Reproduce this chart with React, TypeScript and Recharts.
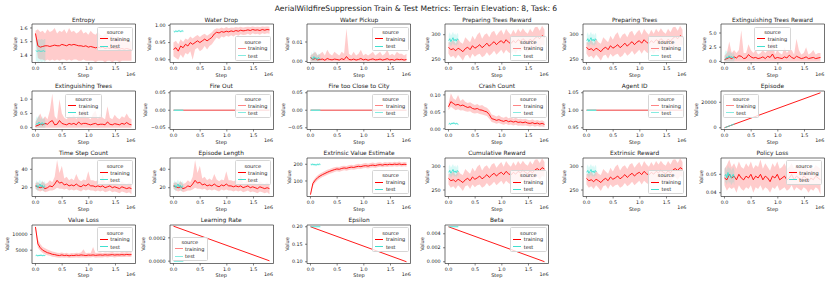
import React from 'react'
import { ComposedChart, Line, Area, XAxis, YAxis, ReferenceArea } from 'recharts'

const RED = '#ff0000'
const TURQ = '#40e0d0'
const FONT = '"DejaVu Sans", sans-serif'

// steps in thousands
const trainSteps = [
  0, 45, 90, 135, 180, 225, 270, 315, 360, 405,
  450, 495, 540, 585, 630, 675, 720, 765, 810, 855,
  900, 945, 990, 1035, 1080, 1125, 1170, 1215, 1260, 1305,
  1350, 1395, 1440, 1485, 1530, 1575, 1620, 1665, 1710, 1755,
  1800,
]
const testSteps = [5, 25, 45, 65, 85, 105, 125, 145, 165, 185]
const lineSteps = [0, 1800]
const lineTestSteps = [5, 185]
const xTicks = [0, 500000, 1000000, 1500000]

const zeros41 = [
  0, 0, 0, 0, 0, 0, 0, 0, 0, 0, 0, 0, 0, 0, 0, 0, 0, 0, 0, 0,
  0, 0, 0, 0, 0, 0, 0, 0, 0, 0, 0, 0, 0, 0, 0, 0, 0, 0, 0, 0, 0,
]
const zeros10 = [0, 0, 0, 0, 0, 0, 0, 0, 0, 0]

const entropyMean = [
  1.56, 1.47, 1.46, 1.465, 1.47, 1.47, 1.465, 1.47, 1.475, 1.47,
  1.47, 1.48, 1.475, 1.47, 1.48, 1.475, 1.48, 1.475, 1.47, 1.47,
  1.465, 1.47, 1.46, 1.465, 1.46, 1.455, 1.46, 1.455, 1.46, 1.45,
  1.455, 1.45, 1.455, 1.45, 1.45, 1.445, 1.45, 1.445, 1.45, 1.445,
  1.44,
]
const entropyHi = [
  1.58, 1.59, 1.57, 1.58, 1.56, 1.59, 1.57, 1.58, 1.6, 1.56,
  1.58, 1.57, 1.59, 1.56, 1.6, 1.57, 1.58, 1.56, 1.57, 1.59,
  1.56, 1.57, 1.55, 1.58, 1.56, 1.55, 1.57, 1.55, 1.54, 1.56,
  1.55, 1.54, 1.55, 1.53, 1.54, 1.53, 1.52, 1.53, 1.52, 1.51,
  1.5,
]
const entropyLo = [
  1.53, 1.38, 1.37, 1.37, 1.36, 1.37, 1.36, 1.37, 1.36, 1.37,
  1.36, 1.37, 1.37, 1.36, 1.37, 1.36, 1.37, 1.37, 1.36, 1.36,
  1.37, 1.36, 1.36, 1.36, 1.36, 1.35, 1.36, 1.36, 1.36, 1.35,
  1.36, 1.36, 1.35, 1.36, 1.36, 1.35, 1.36, 1.36, 1.36, 1.36,
  1.36,
]
const entropyTest = [1.435, 1.43, 1.43, 1.435, 1.43, 1.43, 1.43, 1.435, 1.43, 1.43]
const entropyTestLo = [1.35, 1.36, 1.35, 1.35, 1.36, 1.35, 1.35, 1.36, 1.35, 1.35]
const entropyTestHi = [1.52, 1.51, 1.52, 1.52, 1.51, 1.52, 1.52, 1.51, 1.52, 1.52]

const waterDropMean = [
  0.93, 0.935, 0.925, 0.94, 0.935, 0.945, 0.94, 0.95, 0.945, 0.95,
  0.955, 0.95, 0.955, 0.96, 0.955, 0.96, 0.965, 0.975, 0.98, 0.978,
  0.982, 0.98, 0.983, 0.981, 0.984, 0.982, 0.985, 0.983, 0.986, 0.984,
  0.985, 0.987, 0.985, 0.988, 0.986, 0.987, 0.985, 0.988, 0.986, 0.988,
  0.987,
]
const waterDropHi = [
  0.95, 0.955, 0.945, 0.96, 0.952, 0.962, 0.958, 0.968, 0.962, 0.968,
  0.972, 0.966, 0.972, 0.976, 0.97, 0.975, 0.98, 0.988, 0.992, 0.99,
  0.994, 0.991, 0.995, 0.992, 0.994, 0.993, 0.995, 0.994, 0.996, 0.994,
  0.995, 0.996, 0.995, 0.997, 0.995, 0.996, 0.995, 0.997, 0.996, 0.997,
  0.996,
]
const waterDropLo = [
  0.91, 0.905, 0.9, 0.915, 0.905, 0.92, 0.915, 0.925, 0.9, 0.93,
  0.935, 0.925, 0.93, 0.94, 0.93, 0.94, 0.945, 0.955, 0.965, 0.96,
  0.968, 0.965, 0.97, 0.967, 0.971, 0.968, 0.973, 0.97, 0.974, 0.972,
  0.973, 0.976, 0.972, 0.977, 0.974, 0.976, 0.973, 0.977, 0.975, 0.977,
  0.976,
]
const waterDropTest = [0.983, 0.981, 0.984, 0.982, 0.983, 0.985, 0.982, 0.983, 0.984, 0.983]
const waterDropTestLo = [0.98, 0.978, 0.981, 0.979, 0.98, 0.982, 0.979, 0.98, 0.981, 0.98]
const waterDropTestHi = [0.986, 0.984, 0.987, 0.985, 0.986, 0.988, 0.985, 0.986, 0.987, 0.986]

const waterPickupMean = [
  0.002, 0.001, 0.0015, 0.0008, 0.001, 0.0012, 0.0006, 0.0015, 0.001, 0.0008,
  0.0012, 0.001, 0.0007, 0.0014, 0.0009, 0.0025, 0.001, 0.0008, 0.0012, 0.0007,
  0.001, 0.0015, 0.0008, 0.0011, 0.0006, 0.001, 0.0013, 0.0008, 0.0009, 0.0012,
  0.0007, 0.001, 0.0014, 0.0008, 0.001, 0.0006, 0.0012, 0.0009, 0.0011, 0.0007,
  0.001,
]
const waterPickupHi = [
  0.003, 0.004, 0.005, 0.003, 0.004, 0.005, 0.003, 0.006, 0.004, 0.003,
  0.005, 0.004, 0.003, 0.005, 0.004, 0.017, 0.004, 0.003, 0.005, 0.003,
  0.004, 0.006, 0.003, 0.004, 0.003, 0.004, 0.005, 0.003, 0.004, 0.005,
  0.003, 0.004, 0.006, 0.003, 0.004, 0.003, 0.005, 0.004, 0.004, 0.003,
  0.004,
]
const waterPickupTest = [0.0015, 0.002, 0.001, 0.0025, 0.0015, 0.002, 0.001, 0.002, 0.0015, 0.001]
const waterPickupTestHi = [0.003, 0.005, 0.003, 0.006, 0.004, 0.005, 0.003, 0.004, 0.004, 0.003]

const rewardMean = [
  275, 270, 272, 268, 273, 270, 266, 272, 275, 270,
  278, 273, 276, 280, 274, 278, 283, 277, 282, 286,
  280, 285, 288, 283, 290, 285, 282, 288, 284, 290,
  287, 292, 288, 285, 291, 287, 293, 296, 292, 298,
  295,
]
const rewardHi = [
  285, 285, 290, 282, 292, 285, 282, 295, 290, 285,
  298, 290, 300, 305, 292, 300, 303, 295, 305, 308,
  298, 305, 310, 300, 312, 305, 300, 310, 302, 312,
  305, 313, 306, 302, 312, 305, 315, 316, 308, 318,
  310,
]
const rewardLo = [
  262, 255, 258, 252, 260, 255, 248, 258, 260, 252,
  262, 256, 260, 262, 255, 258, 265, 258, 262, 268,
  260, 265, 270, 262, 270, 265, 262, 268, 262, 270,
  266, 272, 268, 265, 272, 268, 275, 278, 272, 280,
  278,
]
const rewardTest = [288, 292, 286, 290, 294, 288, 291, 287, 292, 289]
const rewardTestHi = [300, 305, 298, 302, 306, 300, 303, 298, 304, 300]
const rewardTestLo = [278, 282, 276, 280, 283, 278, 281, 277, 282, 279]

const extTreesRewardMean = [
  0.3, 0.5, 0.7, 0.5, 0.8, 0.6, 1.0, 0.9, 0.5, 0.6,
  1.2, 0.8, 0.6, 0.7, 0.5, 0.6, 0.8, 0.5, 0.9, 0.7,
  1.3, 0.5, 0.7, 0.6, 0.5, 0.8, 0.6, 1.1, 0.7, 0.5,
  0.9, 0.7, 0.5, 0.6, 0.8, 0.5, 0.6, 0.7, 0.5, 0.6,
  0.7,
]
const extTreesRewardHi = [
  1.0, 1.5, 3.5, 1.5, 2.0, 1.5, 2.0, 5.5, 1.5, 1.5,
  3.0, 2.0, 1.5, 2.0, 1.2, 1.5, 2.0, 1.5, 2.0, 2.0,
  5.0, 1.2, 2.0, 1.5, 1.2, 2.5, 1.5, 2.0, 2.0, 1.2,
  4.0, 2.0, 1.2, 1.5, 2.5, 1.2, 1.5, 2.0, 1.2, 1.5,
  1.5,
]
const extTreesRewardTest = [0.3, 0.5, 0.8, 0.6, 1.0, 0.7, 0.9, 0.6, 0.8, 0.5]
const extTreesRewardTestHi = [1.5, 2.0, 1.8, 1.5, 2.0, 1.5, 1.8, 1.2, 1.6, 1.2]

const extTreesMean = [
  0.05, 0.08, 0.12, 0.1, 0.15, 0.12, 0.2, 0.25, 0.1, 0.12,
  0.25, 0.15, 0.12, 0.1, 0.15, 0.12, 0.15, 0.1, 0.2, 0.12,
  0.15, 0.15, 0.12, 0.1, 0.13, 0.15, 0.1, 0.12, 0.12, 0.1,
  0.2, 0.12, 0.1, 0.14, 0.12, 0.1, 0.15, 0.12, 0.18, 0.12,
  0.1,
]
const extTreesHi = [
  0.2, 0.35, 0.5, 0.3, 0.4, 0.3, 0.6, 1.2, 0.4, 0.3,
  1.0, 0.5, 0.35, 0.3, 0.4, 0.35, 0.45, 0.3, 0.5, 0.35,
  0.8, 0.4, 0.35, 0.3, 0.5, 0.6, 0.3, 0.5, 0.35, 0.3,
  0.75, 0.35, 0.3, 0.45, 0.35, 0.3, 0.4, 0.35, 0.5, 0.35,
  0.3,
]
const extTreesTest = [0.1, 0.15, 0.12, 0.2, 0.15, 0.1, 0.18, 0.12, 0.15, 0.1]
const extTreesTestHi = [0.3, 0.4, 0.35, 0.45, 0.35, 0.3, 0.4, 0.3, 0.35, 0.25]

const crashMean = [
  0.065, 0.08, 0.075, 0.07, 0.072, 0.068, 0.07, 0.066, 0.063, 0.065,
  0.06, 0.058, 0.06, 0.056, 0.055, 0.052, 0.05, 0.042, 0.03, 0.028,
  0.025, 0.027, 0.024, 0.022, 0.025, 0.021, 0.023, 0.02, 0.022, 0.019,
  0.02, 0.018, 0.02, 0.017, 0.016, 0.018, 0.015, 0.017, 0.014, 0.016,
  0.013,
]
const crashHi = [
  0.075, 0.105, 0.09, 0.085, 0.1, 0.082, 0.088, 0.08, 0.076, 0.078,
  0.074, 0.07, 0.073, 0.068, 0.07, 0.065, 0.062, 0.055, 0.042, 0.04,
  0.036, 0.04, 0.035, 0.033, 0.036, 0.031, 0.034, 0.03, 0.033, 0.029,
  0.03, 0.028, 0.03, 0.027, 0.025, 0.028, 0.024, 0.026, 0.023, 0.025,
  0.021,
]
const crashLo = [
  0.055, 0.065, 0.06, 0.055, 0.058, 0.054, 0.055, 0.052, 0.05, 0.052,
  0.047, 0.045, 0.047, 0.044, 0.042, 0.04, 0.038, 0.03, 0.02, 0.018,
  0.015, 0.017, 0.014, 0.012, 0.015, 0.011, 0.013, 0.01, 0.012, 0.009,
  0.01, 0.009, 0.01, 0.008, 0.007, 0.009, 0.006, 0.008, 0.006, 0.007,
  0.005,
]
const crashTest = [0.014, 0.016, 0.013, 0.017, 0.015, 0.018, 0.014, 0.016, 0.015, 0.013]
const crashTestHi = [0.017, 0.019, 0.016, 0.02, 0.018, 0.021, 0.017, 0.019, 0.018, 0.016]
const crashTestLo = [0.011, 0.013, 0.01, 0.014, 0.012, 0.015, 0.011, 0.013, 0.012, 0.01]

const stepCountMean = [
  22, 21, 20, 21, 19, 20, 22, 21, 24, 28,
  25, 26, 23, 24, 22, 23, 22, 24, 22, 21,
  23, 22, 24, 22, 22, 21, 22, 21, 22, 20,
  21, 22, 20, 21, 20, 19, 21, 20, 19, 20,
  19,
]
const stepCountHi = [
  25, 26, 24, 27, 24, 25, 28, 26, 32, 50,
  36, 44, 30, 32, 28, 30, 28, 35, 29, 27,
  29, 28, 38, 28, 28, 27, 28, 26, 34, 25,
  26, 28, 25, 27, 25, 24, 27, 25, 24, 26,
  24,
]
const stepCountLo = [
  19, 17, 16, 17, 15, 16, 17, 17, 18, 20,
  19, 19, 18, 19, 17, 18, 17, 18, 17, 16,
  18, 17, 18, 17, 17, 16, 17, 16, 17, 15,
  16, 17, 15, 16, 15, 14, 16, 15, 14, 15,
  13,
]
const stepCountTest = [21, 23, 20, 22, 24, 21, 23, 20, 22, 21]
const stepCountTestHi = [26, 28, 25, 27, 29, 26, 28, 25, 27, 26]
const stepCountTestLo = [17, 18, 16, 18, 19, 17, 18, 16, 17, 17]

const valueEstMean = [
  18, 85, 105, 120, 130, 138, 145, 152, 158, 163,
  168, 172, 170, 175, 178, 176, 180, 183, 181, 185,
  188, 186, 190, 192, 189, 193, 195, 192, 196, 198,
  195, 199, 197, 200, 198, 201, 199, 202, 198, 200,
  199,
]
const valueEstHi = [
  22, 100, 120, 135, 145, 152, 160, 168, 172, 178,
  182, 186, 184, 190, 192, 190, 195, 198, 195, 200,
  203, 200, 205, 207, 203, 208, 210, 206, 210, 212,
  208, 213, 210, 214, 211, 215, 212, 216, 211, 213,
  212,
]
const valueEstLo = [
  18, 70, 90, 105, 115, 124, 130, 137, 143, 148,
  154, 158, 156, 160, 164, 162, 166, 169, 167, 171,
  174, 172, 176, 178, 175, 179, 181, 178, 183, 185,
  182, 186, 184, 187, 185, 188, 186, 189, 185, 188,
  186,
]
const valueEstTest = [200, 198, 201, 197, 199, 195, 200, 198, 201, 199]
const valueEstTestHi = [206, 204, 207, 203, 205, 201, 206, 204, 207, 205]
const valueEstTestLo = [193, 190, 194, 189, 192, 187, 193, 191, 194, 192]

const policyLossMean = [
  0.048, 0.047, 0.05, 0.048, 0.049, 0.047, 0.05, 0.048, 0.047, 0.049,
  0.048, 0.05, 0.047, 0.049, 0.048, 0.05, 0.047, 0.049, 0.048, 0.046,
  0.049, 0.048, 0.05, 0.047, 0.048, 0.049, 0.047, 0.048, 0.05, 0.047,
  0.049, 0.048, 0.047, 0.049, 0.048, 0.046, 0.048, 0.047, 0.049, 0.048,
  0.047,
]
const policyLossHi = [
  0.053, 0.055, 0.058, 0.054, 0.056, 0.053, 0.057, 0.054, 0.053, 0.056,
  0.054, 0.057, 0.053, 0.055, 0.054, 0.058, 0.053, 0.056, 0.054, 0.052,
  0.056, 0.054, 0.057, 0.053, 0.054, 0.056, 0.053, 0.054, 0.056, 0.053,
  0.055, 0.054, 0.053, 0.055, 0.054, 0.052, 0.054, 0.053, 0.055, 0.054,
  0.053,
]
const policyLossLo = [
  0.044, 0.041, 0.043, 0.042, 0.043, 0.04, 0.044, 0.042, 0.041, 0.043,
  0.042, 0.044, 0.04, 0.043, 0.042, 0.044, 0.041, 0.043, 0.042, 0.04,
  0.043, 0.042, 0.044, 0.041, 0.042, 0.043, 0.041, 0.042, 0.044, 0.041,
  0.043, 0.042, 0.041, 0.043, 0.042, 0.04, 0.042, 0.041, 0.043, 0.042,
  0.039,
]
const policyLossTest = [0.049, 0.05, 0.048, 0.051, 0.049, 0.05, 0.048, 0.049, 0.05, 0.048]
const policyLossTestHi = [0.053, 0.054, 0.052, 0.055, 0.053, 0.054, 0.052, 0.053, 0.054, 0.052]
const policyLossTestLo = [0.045, 0.046, 0.044, 0.047, 0.045, 0.046, 0.044, 0.045, 0.046, 0.044]

const valueLossMean = [
  12400, 7000, 5800, 5000, 4600, 4200, 4000, 3700, 3600, 3400,
  3300, 3500, 3300, 3400, 3200, 3350, 3300, 3450, 3350, 3500,
  3400, 3300, 3450, 3400, 3500, 3350, 3450, 3500, 3400, 3550,
  3450, 3500, 3600, 3450, 3550, 3500, 3600, 3500, 3650, 3550,
  3600,
]
const valueLossHi = [
  12800, 8500, 7000, 6000, 5600, 5200, 4900, 4600, 4400, 4200,
  4100, 4300, 4000, 4200, 3900, 4100, 4000, 4200, 4100, 4300,
  5300, 4000, 4200, 4100, 6000, 4100, 4200, 4300, 4100, 4300,
  4200, 4300, 4400, 4200, 4300, 4200, 4400, 4300, 4400, 4300,
  4400,
]
const valueLossLo = [
  11800, 5800, 4800, 4100, 3700, 3400, 3200, 2900, 2800, 2700,
  2600, 2700, 2600, 2700, 2500, 2600, 2600, 2700, 2600, 2700,
  2700, 2600, 2700, 2700, 2800, 2600, 2700, 2700, 2700, 2800,
  2700, 2800, 2800, 2700, 2800, 2800, 2800, 2800, 2900, 2800,
  2900,
]
const valueLossTest = [3300, 3400, 3200, 3350, 3300, 3450, 3250, 3350, 3300, 3400]
const valueLossTestHi = [3550, 3650, 3450, 3600, 3550, 3700, 3500, 3600, 3550, 3650]
const valueLossTestLo = [3050, 3150, 2950, 3100, 3050, 3200, 3000, 3100, 3050, 3150]

const flatZero = [0, 0]
const agentId = [1, 1]
const episodeTrain = [0, 27500]
const episodeTest = [0, 3000]
const lrTrain = [0.0003, 0.000003]
const epsilonTrain = [0.2, 0.1]
const epsilonTest = [0.2, 0.2]
const betaTrain = [0.005, 0.00001]
const betaTest = [0.005, 0.005]

type LegendPos = 'ur' | 'lr' | 'uc' | 'ul' | 'll'
type Cfg = {
  title: string
  steps: number[]
  train: number[]
  trainLo?: number[]
  trainHi?: number[]
  tSteps: number[]
  test: number[]
  testLo?: number[]
  testHi?: number[]
  domain: [number, number]
  ticks: number[]
  dec: number
  legend: LegendPos
  faded?: boolean
  flat?: boolean
}

const charts: Cfg[] = [
  { title: 'Entropy', steps: trainSteps, train: entropyMean, trainLo: entropyLo, trainHi: entropyHi, tSteps: testSteps, test: entropyTest, testLo: entropyTestLo, testHi: entropyTestHi, domain: [1.348, 1.629], ticks: [1.4, 1.5, 1.6], dec: 1, legend: 'ur' },
  { title: 'Water Drop', steps: trainSteps, train: waterDropMean, trainLo: waterDropLo, trainHi: waterDropHi, tSteps: testSteps, test: waterDropTest, testLo: waterDropTestLo, testHi: waterDropTestHi, domain: [0.892, 1.004], ticks: [0.9, 0.95, 1.0], dec: 2, legend: 'lr', faded: true },
  { title: 'Water Pickup', steps: trainSteps, train: waterPickupMean, trainLo: zeros41, trainHi: waterPickupHi, tSteps: testSteps, test: waterPickupTest, testLo: zeros10, testHi: waterPickupTestHi, domain: [-0.00056, 0.01928], ticks: [0, 0.01], dec: 2, legend: 'ur' },
  { title: 'Preparing Trees Reward', steps: trainSteps, train: rewardMean, trainLo: rewardLo, trainHi: rewardHi, tSteps: testSteps, test: rewardTest, testLo: rewardTestLo, testHi: rewardTestHi, domain: [244.4, 321.4], ticks: [250, 300], dec: 0, legend: 'lr', faded: true },
  { title: 'Preparing Trees', steps: trainSteps, train: rewardMean, trainLo: rewardLo, trainHi: rewardHi, tSteps: testSteps, test: rewardTest, testLo: rewardTestLo, testHi: rewardTestHi, domain: [244.4, 321.4], ticks: [250, 300], dec: 0, legend: 'lr', faded: true },
  { title: 'Extinguishing Trees Reward', steps: trainSteps, train: extTreesRewardMean, trainLo: zeros41, trainHi: extTreesRewardHi, tSteps: testSteps, test: extTreesRewardTest, testLo: zeros10, testHi: extTreesRewardTestHi, domain: [-0.19, 6.585], ticks: [0, 2.5, 5], dec: 1, legend: 'uc' },

  { title: 'Extinguishing Trees', steps: trainSteps, train: extTreesMean, trainLo: zeros41, trainHi: extTreesHi, tSteps: testSteps, test: extTreesTest, testLo: zeros10, testHi: extTreesTestHi, domain: [-0.065, 1.29], ticks: [0, 0.5, 1], dec: 1, legend: 'uc' },
  { title: 'Fire Out', steps: lineSteps, train: flatZero, tSteps: lineTestSteps, test: flatZero, domain: [-0.055, 0.055], ticks: [-0.05, 0, 0.05], dec: 2, legend: 'ur', faded: true, flat: true },
  { title: 'Fire too Close to City', steps: lineSteps, train: flatZero, tSteps: lineTestSteps, test: flatZero, domain: [-0.055, 0.055], ticks: [-0.05, 0, 0.05], dec: 2, legend: 'ur', faded: true, flat: true },
  { title: 'Crash Count', steps: trainSteps, train: crashMean, trainLo: crashLo, trainHi: crashHi, tSteps: testSteps, test: crashTest, testLo: crashTestLo, testHi: crashTestHi, domain: [-0.002, 0.1115], ticks: [0, 0.05, 0.1], dec: 2, legend: 'ur', faded: true },
  { title: 'Agent ID', steps: lineSteps, train: agentId, tSteps: lineTestSteps, test: agentId, domain: [0.945, 1.055], ticks: [0.95, 1, 1.05], dec: 2, legend: 'ur', faded: true, flat: true },
  { title: 'Episode', steps: lineSteps, train: episodeTrain, tSteps: lineTestSteps, test: episodeTest, domain: [-1375, 28875], ticks: [0, 20000], dec: 0, legend: 'ul', faded: true },

  { title: 'Time Step Count', steps: trainSteps, train: stepCountMean, trainLo: stepCountLo, trainHi: stepCountHi, tSteps: testSteps, test: stepCountTest, testLo: stepCountTestLo, testHi: stepCountTestHi, domain: [10.45, 52.3], ticks: [20, 40], dec: 0, legend: 'ur' },
  { title: 'Episode Length', steps: trainSteps, train: stepCountMean, trainLo: stepCountLo, trainHi: stepCountHi, tSteps: testSteps, test: stepCountTest, testLo: stepCountTestLo, testHi: stepCountTestHi, domain: [10.45, 52.3], ticks: [20, 40], dec: 0, legend: 'ur' },
  { title: 'Extrinsic Value Estimate', steps: trainSteps, train: valueEstMean, trainLo: valueEstLo, trainHi: valueEstHi, tSteps: testSteps, test: valueEstTest, testLo: valueEstTestLo, testHi: valueEstTestHi, domain: [7, 237.7], ticks: [100, 200], dec: 0, legend: 'lr' },
  { title: 'Cumulative Reward', steps: trainSteps, train: rewardMean, trainLo: rewardLo, trainHi: rewardHi, tSteps: testSteps, test: rewardTest, testLo: rewardTestLo, testHi: rewardTestHi, domain: [236.1, 318.7], ticks: [250, 300], dec: 0, legend: 'lr' },
  { title: 'Extrinsic Reward', steps: trainSteps, train: rewardMean, trainLo: rewardLo, trainHi: rewardHi, tSteps: testSteps, test: rewardTest, testLo: rewardTestLo, testHi: rewardTestHi, domain: [236.1, 318.7], ticks: [250, 300], dec: 0, legend: 'lr' },
  { title: 'Policy Loss', steps: trainSteps, train: policyLossMean, trainLo: policyLossLo, trainHi: policyLossHi, tSteps: testSteps, test: policyLossTest, testLo: policyLossTestLo, testHi: policyLossTestHi, domain: [0.03794, 0.05886], ticks: [0.04, 0.05], dec: 2, legend: 'ur' },

  { title: 'Value Loss', steps: trainSteps, train: valueLossMean, trainLo: valueLossLo, trainHi: valueLossHi, tSteps: testSteps, test: valueLossTest, testLo: valueLossTestLo, testHi: valueLossTestHi, domain: [765, 13026], ticks: [5000, 10000], dec: 0, legend: 'ur' },
  { title: 'Learning Rate', steps: lineSteps, train: lrTrain, tSteps: lineTestSteps, test: flatZero, domain: [-0.00002, 0.00031], ticks: [0, 0.0002], dec: 4, legend: 'll', faded: true },
  { title: 'Epsilon', steps: lineSteps, train: epsilonTrain, tSteps: lineTestSteps, test: epsilonTest, domain: [0.095, 0.205], ticks: [0.1, 0.15, 0.2], dec: 2, legend: 'ur' },
  { title: 'Beta', steps: lineSteps, train: betaTrain, tSteps: lineTestSteps, test: betaTest, domain: [-0.00025, 0.00525], ticks: [0, 0.002, 0.004], dec: 3, legend: 'ur' },
]

const X_DOMAIN: [number, number] = [-65000, 1875000]
const COL0 = 31.7
const COLSTEP = 137.8
const ROW0 = 24.3
const ROWSTEP = 66.83
const BOX_W = 103.5
const BOX_H = 38.5
const Y_W = 32
const M_T = 5
const M_R = 4
const X_H = 12
const LEG_W = 36.5
const LEG_H = 24.5

const fmt = (v: number, dec: number) => (v < 0 ? '\u2212' : '') + Math.abs(v).toFixed(dec)
const textW = (s: string, fs: number) =>
  [...s].reduce((a, ch) => a + (ch === '.' ? 0.318 : ch === '\u2212' ? 0.838 : 0.636), 0) * fs

function makeRows(c: Cfg) {
  const rows: any[] = []
  c.steps.forEach((s, i) =>
    rows.push({ x: s * 1000, mean: c.train[i], band: c.trainHi ? [c.trainLo![i], c.trainHi[i]] : undefined })
  )
  c.tSteps.forEach((s, i) =>
    rows.push({ x: s * 1000, tmean: c.test[i], tband: c.testHi ? [c.testLo![i], c.testHi[i]] : undefined })
  )
  rows.sort((a, b) => a.x - b.x)
  return rows
}

function Txt({ x, y, size, children, anchor = 'middle', rotate = false, weight = 400 }: any) {
  const tx = anchor === 'middle' ? '-50%' : anchor === 'end' ? '-100%' : '0'
  return (
    <div
      style={{
        position: 'absolute', left: x, top: y, fontSize: size, lineHeight: 1, whiteSpace: 'nowrap',
        fontFamily: FONT, color: '#1a1a1a', fontWeight: weight,
        transform: `translate(${tx}, -50%)${rotate ? ' rotate(-90deg)' : ''}`,
        transformOrigin: rotate ? '50% 50%' : undefined,
      }}
    >
      {children}
    </div>
  )
}

function LegendBox({ left, top, faded }: { left: number; top: number; faded?: boolean }) {
  const tr = faded ? '#ff8585' : RED
  const te = faded ? '#86ebe0' : TURQ
  return (
    <div
      style={{
        position: 'absolute', left, top, width: LEG_W, height: LEG_H, boxSizing: 'border-box',
        background: 'rgba(255,255,255,0.8)', border: '1px solid #d6d6d6', borderRadius: 1.5,
      }}
    >
      <Txt x={LEG_W / 2 - 1} y={4.3} size={5}>source</Txt>
      <div style={{ position: 'absolute', left: 2, top: 10.6, width: 8, height: 1, background: tr }} />
      <Txt x={12.6} y={11.1} size={5} anchor="start">training</Txt>
      <div style={{ position: 'absolute', left: 2, top: 17.8, width: 8, height: 1, background: te }} />
      <Txt x={12.6} y={18.3} size={5} anchor="start">test</Txt>
    </div>
  )
}

function Panel({ c, idx }: { c: Cfg; idx: number }) {
  const col = idx % 6
  const row = Math.floor(idx / 6)
  const bx = COL0 + col * COLSTEP
  const by = ROW0 + row * ROWSTEP
  const rows = makeRows(c)
  const trainColor = c.flat ? '#f47c7c' : RED
  const lw = c.flat ? 1.4 : 0.9
  const maxTick = Math.max(...c.ticks.map((t) => textW(fmt(t, c.dec), 4.8)))
  let lx = bx + BOX_W - 2 - LEG_W
  let ly = by + 2.5
  if (c.legend === 'lr' || c.legend === 'll') ly = by + BOX_H - 2 - LEG_H
  if (c.legend === 'uc') lx = bx + (BOX_W - LEG_W) / 2
  if (c.legend === 'ul' || c.legend === 'll') lx = bx + 2
  const tick = { fontSize: 4.8, fill: '#1a1a1a', fontFamily: FONT }
  const tl = { stroke: '#333', strokeWidth: 0.6 }
  return (
    <>
      <div style={{ position: 'absolute', left: bx - Y_W, top: by - M_T }}>
        <ComposedChart
          width={Y_W + BOX_W + M_R}
          height={M_T + BOX_H + X_H}
          data={rows}
          margin={{ top: M_T, right: M_R, bottom: 0, left: 0 }}
        >
          <XAxis
            type="number" dataKey="x" domain={X_DOMAIN} allowDataOverflow ticks={xTicks} interval={0}
            tickFormatter={(v: number) => (v / 1e6).toFixed(1)} height={X_H} tick={tick}
            tickSize={2} tickMargin={2.2} axisLine={false} tickLine={tl}
          />
          <YAxis
            type="number" domain={c.domain} allowDataOverflow ticks={c.ticks} interval={0}
            tickFormatter={(v: number) => fmt(v, c.dec)} width={Y_W} tick={tick}
            tickSize={2} tickMargin={2.4} axisLine={false} tickLine={tl}
          />
          {c.trainHi && (
            <Area dataKey="band" type="linear" stroke="none" fill={RED} fillOpacity={0.2}
              connectNulls isAnimationActive={false} dot={false} activeDot={false} />
          )}
          <Line dataKey="mean" type="linear" stroke={trainColor} strokeWidth={lw}
            connectNulls isAnimationActive={false} dot={false} activeDot={false} />
          {c.testHi && (
            <Area dataKey="tband" type="linear" stroke="none" fill={TURQ} fillOpacity={0.2}
              connectNulls isAnimationActive={false} dot={false} activeDot={false} />
          )}
          <Line dataKey="tmean" type="linear" stroke={c.flat ? '#6fe3d6' : TURQ} strokeWidth={lw}
            connectNulls isAnimationActive={false} dot={false} activeDot={false} />
          <ReferenceArea x1={X_DOMAIN[0]} x2={X_DOMAIN[1]} y1={c.domain[0]} y2={c.domain[1]}
            fill="none" stroke="#333" strokeWidth={0.7} ifOverflow="visible" />
        </ComposedChart>
      </div>
      <Txt x={bx + BOX_W / 2} y={by - 3.8} size={5.9}>{c.title}</Txt>
      <Txt x={bx + BOX_W / 2} y={by + BOX_H + 12.2} size={5}>Step</Txt>
      <Txt x={bx + BOX_W} y={by + BOX_H + 11.8} size={4.8} anchor="end">1e6</Txt>
      <Txt x={bx - 4.4 - maxTick - 5} y={by + BOX_H / 2} size={5} rotate>Value</Txt>
      <LegendBox left={lx} top={ly} faded={c.faded} />
    </>
  )
}

export default function App() {
  return (
    <div style={{ position: 'absolute', left: 0, top: 0, width: 831, height: 283, background: '#fff', overflow: 'hidden' }}>
      <Txt x={416} y={9} size={7.6}>
        AerialWildfireSuppression Train &amp; Test Metrics: Terrain Elevation: 8, Task: 6
      </Txt>
      {charts.map((c, i) => (
        <Panel key={c.title} c={c} idx={i} />
      ))}
    </div>
  )
}
